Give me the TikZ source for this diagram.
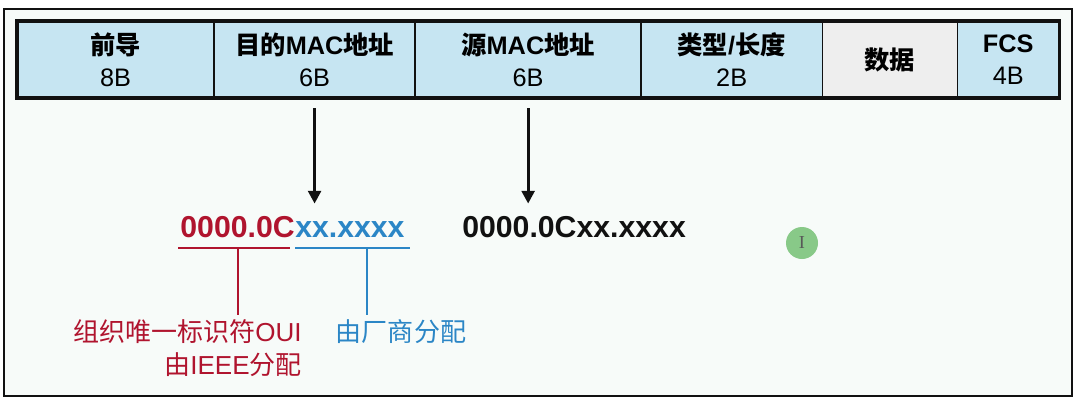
\documentclass[tikz,border=0pt]{standalone}
\usepackage{fontspec}
\usepackage{tikz}
\usetikzlibrary{positioning,arrows.meta,fit,calc}
\setmainfont{Liberation Sans}
\newfontfamily\cjk{Noto Sans CJK SC}
\newfontfamily\beamfont{Liberation Serif}
\newcommand{\zh}[1]{{\cjk #1}}
\definecolor{ink}{HTML}{111111}
\definecolor{paper}{HTML}{F7FBF9}
\definecolor{cellBlue}{HTML}{C6E5F2}
\definecolor{cellGray}{HTML}{EEEEEE}
\definecolor{ouiRed}{HTML}{B0142E}
\definecolor{nicBlue}{HTML}{2B86C6}
\definecolor{cursorGreen}{HTML}{88C988}
\tikzset{
  field/.style={rectangle, draw=ink, line width=1pt, fill=cellBlue, minimum height=1.925cm,
                inner sep=0pt, outer sep=0pt, align=center, font=\fontsize{18}{23}\selectfont},
  mactext/.style={inner sep=0pt, font=\fontsize{21.5}{24}\selectfont\bfseries},
  note/.style={inner sep=0pt, font=\fontsize{18.5}{23.5}\selectfont},
  pointer/.style={-{Triangle[length=3.2mm,width=3.2mm]}, line width=2.2pt, draw=ink},
  ouibar/.style={line width=1.4pt, draw=ouiRed},
  nicbar/.style={line width=1.4pt, draw=nicBlue}
}

\begin{document}
\begin{tikzpicture}[x=0.025cm, y=-0.025cm]
\useasboundingbox (0,0) rectangle (1076,404);
\draw[draw=ink, line width=1.5pt, fill=paper] (4,9) rectangle (1072,396);

% frame fields
\node[field, minimum width=4.925cm, anchor=north west] (pre) at (17,21)
  {\textbf{\zh{前导}}\\8B};
\node[field, minimum width=5.025cm, right=0pt of pre] (dst)
  {\textbf{\zh{目的}MAC\zh{地址}}\\6B};
\node[field, minimum width=5.65cm, right=0pt of dst] (src)
  {\textbf{\zh{源}MAC\zh{地址}}\\6B};
\node[field, minimum width=4.525cm, right=0pt of src] (type)
  {\textbf{\zh{类型}/\zh{长度}}\\2B};
\node[field, minimum width=3.375cm, fill=cellGray, right=0pt of type] (data)
  {\textbf{\zh{数据}}};
\node[field, minimum width=2.55cm, right=0pt of data] (fcs)
  {\textbf{FCS}\\4B};
\node[fit=(pre)(fcs), draw=ink, line width=2.4pt, inner sep=0pt] (frame) {};

% MAC addresses
\node[mactext, text=ouiRed, anchor=base east] (oui) at (295,237) {0000.0C};
\node[mactext, text=nicBlue, anchor=base west] (nic) at (oui.base east) {xx.xxxx};
\node[mactext, text=ink, anchor=base west] (srcmac) at (462,237) {0000.0Cxx.xxxx};

\draw[pointer, shorten <=0.25cm, shorten >=0.3cm] (dst.south) -- (dst.south |- oui.north);
\draw[pointer, shorten <=0.25cm, shorten >=0.3cm] (src.south) -- (src.south |- srcmac.north);

% OUI / vendor part
\node[note, text=ouiRed, align=right, anchor=north east] (ouinote) at (302,319)
  {\zh{组织唯一标识符}OUI\\\zh{由}IEEE\zh{分配}};
\node[note, text=nicBlue, anchor=north] (nicnote) at (401,319) {\zh{由厂商分配}};
\coordinate (ouiL) at (178,248);
\coordinate (ouiR) at (290,248);
\coordinate (ouiM) at (238,248);
\coordinate (nicL) at (295,248);
\coordinate (nicR) at (410,248);
\coordinate (nicM) at (367,248);
\draw[ouibar] (ouiL) -- (ouiR);
\draw[ouibar, shorten >=0.1cm] (ouiM) -- (ouiM |- ouinote.north);
\draw[nicbar] (nicL) -- (nicR);
\draw[nicbar, shorten >=0.1cm] (nicM) -- (nicM |- nicnote.north);

\node[circle, fill=cursorGreen, minimum size=0.8cm, inner sep=0pt,
      font=\beamfont\fontsize{13}{13}\selectfont, text=ink!70] (cursor) at (802,243) {I};
\end{tikzpicture}
\end{document}
